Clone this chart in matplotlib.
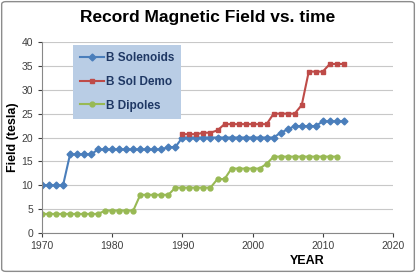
import matplotlib.pyplot as plt
from matplotlib.patches import FancyBboxPatch

plt.rcParams['font.family'] = ['Liberation Sans', 'DejaVu Sans']

# Data
sol_years = list(range(1970, 2014))
sol_field = [10, 10, 10, 10, 16.5, 16.5, 16.5, 16.5, 17.5, 17.5,
             17.5, 17.5, 17.5, 17.5, 17.5, 17.5, 17.5, 17.5, 18, 18,
             20, 20, 20, 20, 20, 20, 20, 20, 20, 20,
             20, 20, 20, 20, 21, 21.7, 22.4, 22.4, 22.4, 22.4,
             23.4, 23.4, 23.4, 23.4]

demo_years = list(range(1990, 2014))
demo_field = [20.7, 20.7, 20.7, 21, 21, 21.5, 22.8, 22.8, 22.8, 22.8,
              22.8, 22.8, 22.8, 25, 25, 25, 25, 26.8, 33.8, 33.8,
              33.8, 35.4, 35.4, 35.4]

dip_years = list(range(1970, 2013))
dip_field = [4, 4, 4, 4, 4, 4, 4, 4, 4, 4.7,
             4.7, 4.7, 4.7, 4.7, 8, 8, 8, 8, 8, 9.5,
             9.5, 9.5, 9.5, 9.5, 9.5, 11.3, 11.3, 13.5, 13.5, 13.5,
             13.5, 13.5, 14.5, 16, 16, 16, 16, 16, 16, 16,
             16, 16, 16]

fig = plt.figure(figsize=(4.16, 2.73), dpi=100)
ax = fig.add_axes([42 / 416, 40 / 273, 351 / 416, 191 / 273])

ax.plot(sol_years, sol_field, color='#4A7EBB', marker='D', markersize=3.5,
        linewidth=1.5, label='B Solenoids')
ax.plot(demo_years, demo_field, color='#BE4B48', marker='s', markersize=3.5,
        linewidth=1.5, label='B Sol Demo')
ax.plot(dip_years, dip_field, color='#98B954', marker='o', markersize=3.5,
        linewidth=1.5, label='B Dipoles')

ax.set_xlim(1970, 2020)
ax.set_ylim(0, 40)
ax.set_xticks(range(1970, 2021, 10))
ax.set_yticks(range(0, 41, 5))
ax.grid(axis='y', color='#C8C8C8', linewidth=0.8)
ax.set_axisbelow(True)
for s in ['top', 'right']:
    ax.spines[s].set_visible(False)
for s in ['left', 'bottom']:
    ax.spines[s].set_color('#888888')
ax.tick_params(labelsize=7.5, colors='#404040', length=3, width=0.8)
ax.tick_params(axis='x', pad=3)

ax.set_xlabel('YEAR', fontsize=9, fontweight='bold', x=0.755, labelpad=3)
ax.set_ylabel('Field (tesla)', fontsize=9, fontweight='bold', labelpad=2)

fig.suptitle('Record Magnetic Field vs. time', fontsize=12.5, fontweight='bold',
             y=0.965)

leg = ax.legend(loc='upper left', bbox_to_anchor=(0.088, 0.985), frameon=True,
                fancybox=False, prop={'weight': 'bold', 'size': 8.5},
                labelspacing=1.0, handlelength=2.0, handletextpad=0.2,
                borderpad=0.6, borderaxespad=0)
leg.get_frame().set_facecolor('#B9CDE5')
leg.get_frame().set_edgecolor('none')
leg.get_frame().set_alpha(1)
for t in leg.get_texts():
    t.set_color('#1F3864')

fig.patches.append(FancyBboxPatch((0.004, 0.006), 0.992, 0.988,
                                  boxstyle='round,pad=0,rounding_size=0.01',
                                  transform=fig.transFigure, fill=False,
                                  edgecolor='#8C8C8C', linewidth=1))

fig.savefig('out.png', dpi=100)
